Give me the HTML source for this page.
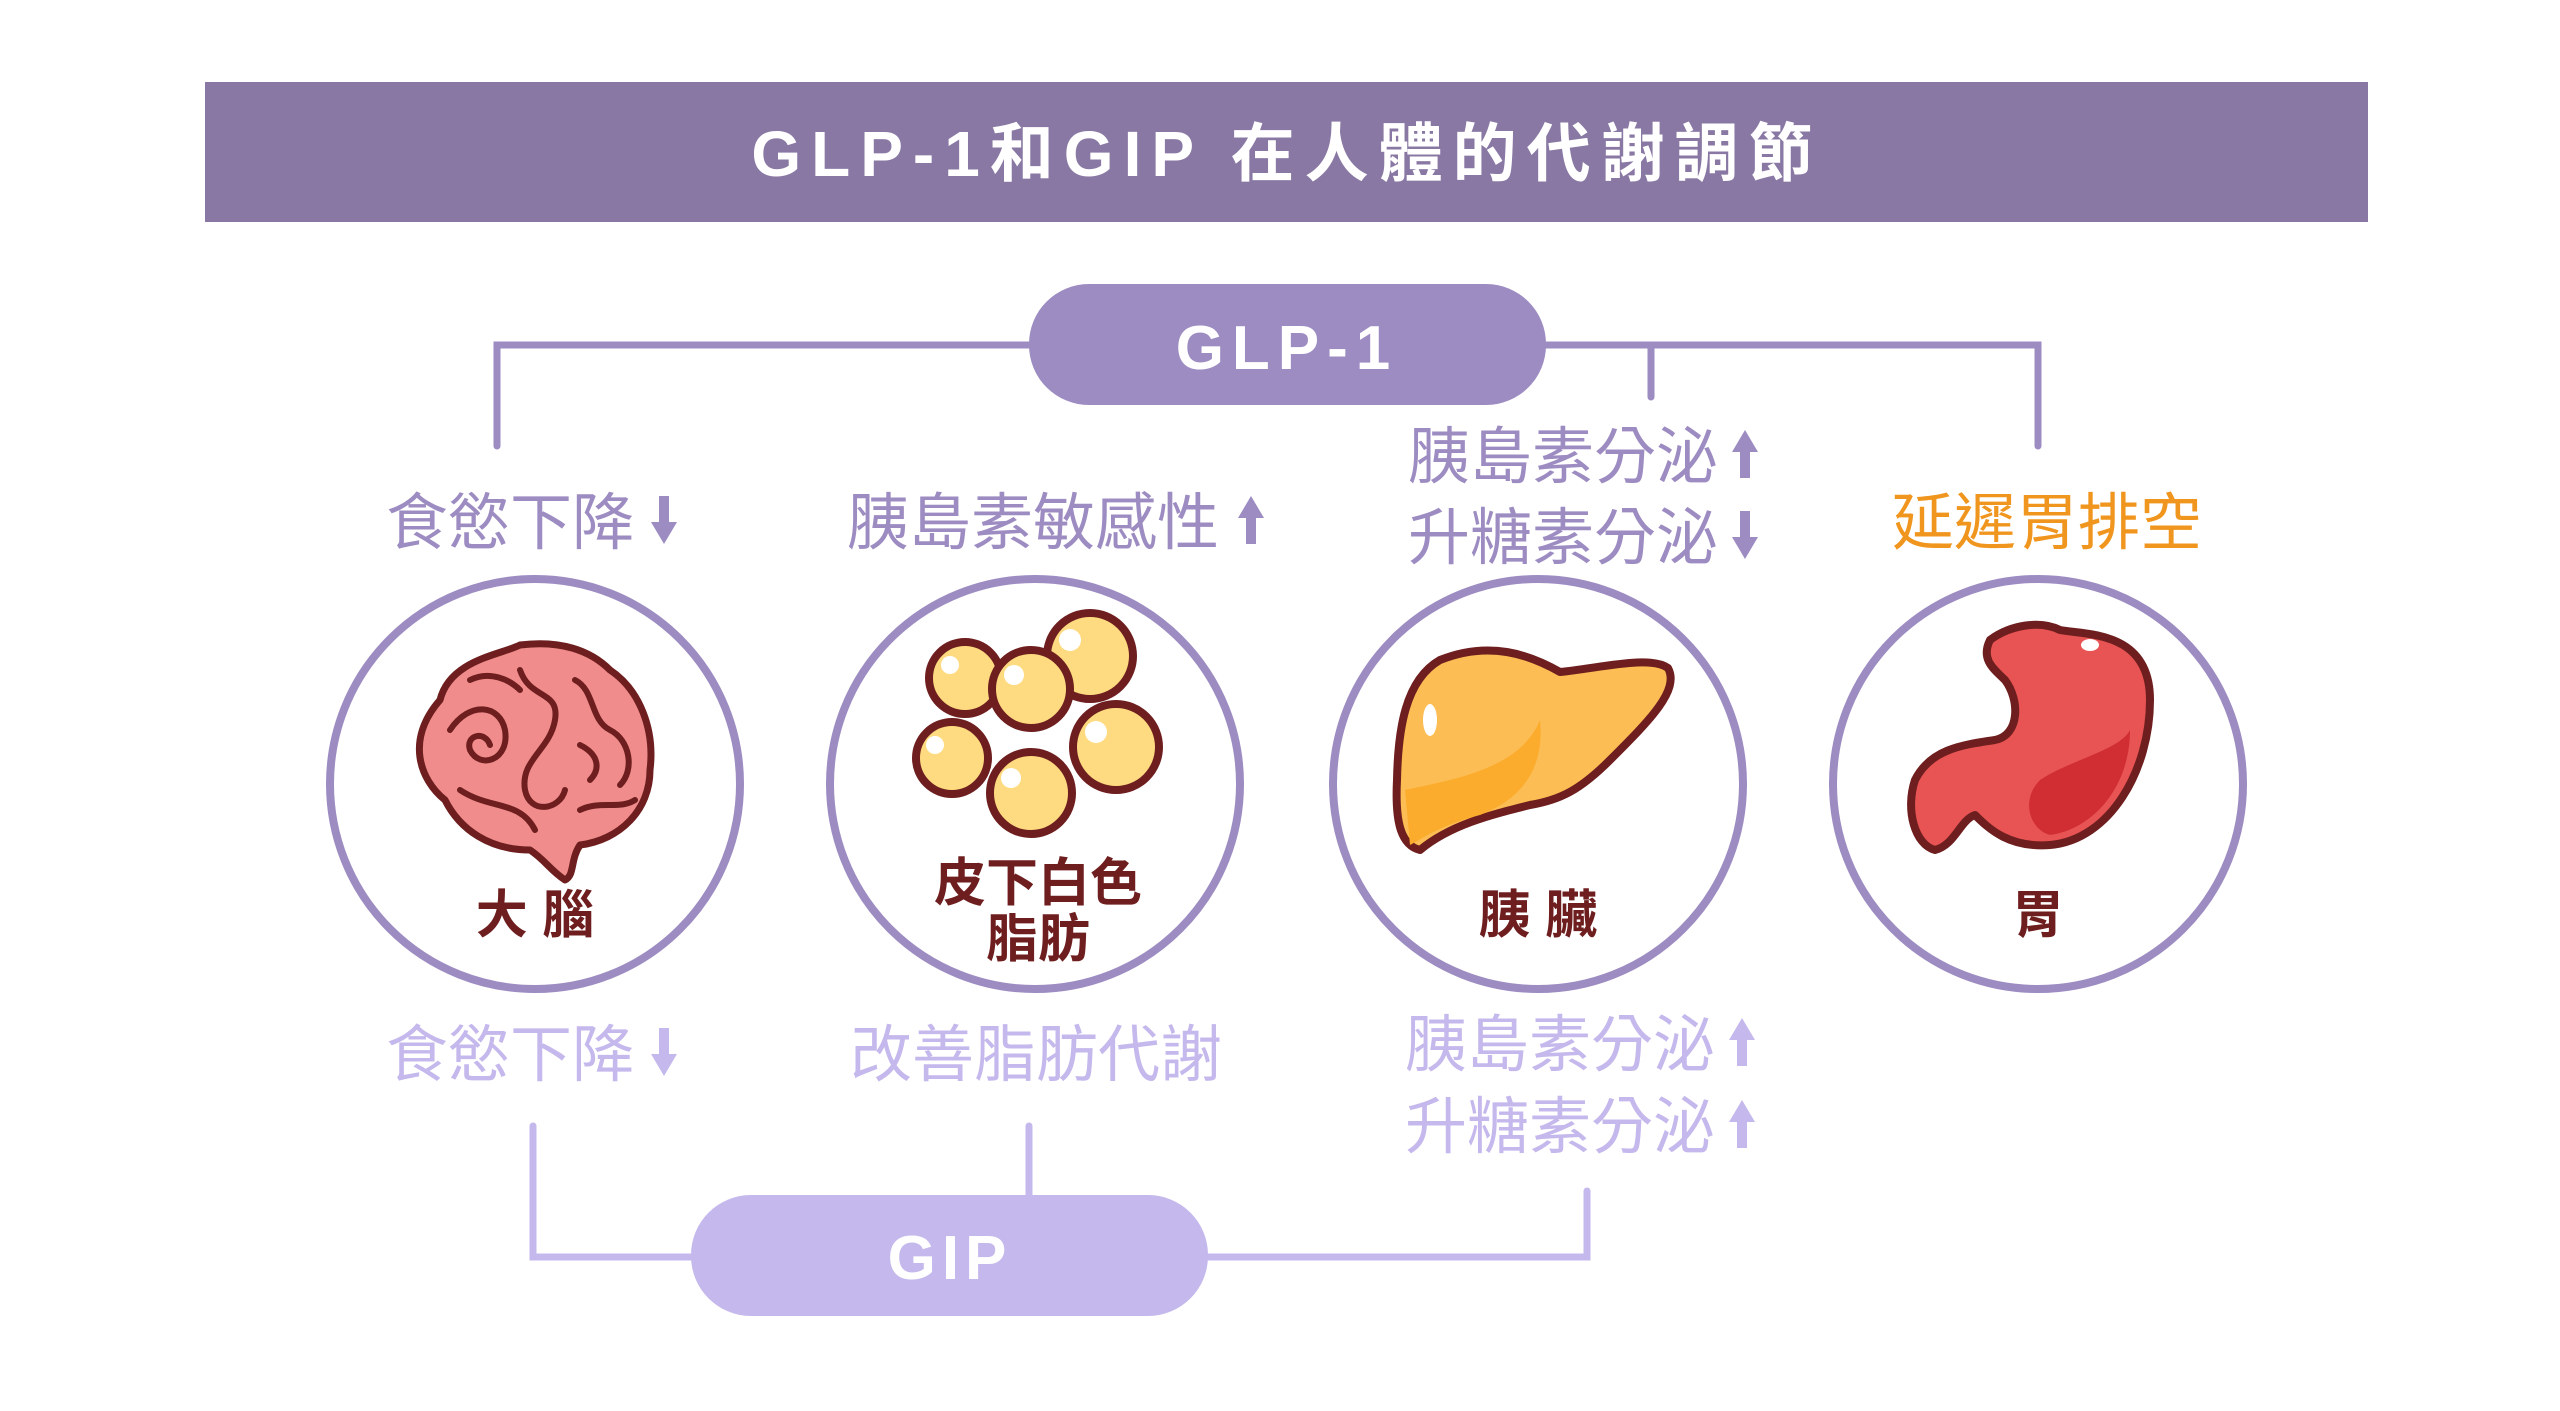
<!DOCTYPE html>
<html><head><meta charset="utf-8"><style>
html,body{margin:0;padding:0;background:#fff;}
svg{display:block;}
text{font-family:"Liberation Sans","Noto Sans CJK TC",sans-serif;}
</style></head><body>
<svg width="2560" height="1411" viewBox="0 0 2560 1411" xmlns="http://www.w3.org/2000/svg">
<rect x="205" y="82" width="2163" height="140" fill="#8878a3"/>
<text x="1287" y="176" font-size="64" font-weight="bold" fill="#fff" text-anchor="middle" letter-spacing="10">GLP-1和GIP 在人體的代謝調節</text>

<g stroke="#9d8cc2" stroke-width="7" fill="none" stroke-linecap="round">
<polyline points="497,446 497,345 2038,345 2038,446"/>
<line x1="1651" y1="345" x2="1651" y2="397"/>
</g>
<rect x="1029" y="284" width="517" height="121" rx="60" fill="#9d8cc2"/>
<text x="1287" y="369" font-size="62" font-weight="bold" fill="#fff" text-anchor="middle" letter-spacing="8">GLP-1</text>

<g stroke="#c5b8ec" stroke-width="7" fill="none" stroke-linecap="round">
<polyline points="533,1126 533,1257 1587,1257 1587,1191"/>
<line x1="1029" y1="1126" x2="1029" y2="1200"/>
</g>
<rect x="691" y="1195" width="517" height="121" rx="60" fill="#c5b8ec"/>
<text x="950" y="1279" font-size="62" font-weight="bold" fill="#fff" text-anchor="middle" letter-spacing="6">GIP</text>

<g font-size="62" fill="#9d8cc2">
<text x="386" y="544">食慾下降</text>
<text x="847" y="544">胰島素敏感性</text>
<text x="1408" y="478">胰島素分泌</text>
<text x="1408" y="559">升糖素分泌</text>
</g>
<text x="1892" y="544" font-size="62" fill="#f0961e">延遲胃排空</text>
<g font-size="62" fill="#c5b8ec">
<text x="386" y="1076">食慾下降</text>
<text x="850" y="1076">改善脂肪代謝</text>
<text x="1405" y="1066">胰島素分泌</text>
<text x="1405" y="1148">升糖素分泌</text>
</g>

<defs>
<path id="dn" d="M-5,-24 h10 v26 h8 l-13,22 l-13,-22 h8z"/>
<path id="up" d="M-5,24 h10 v-26 h8 l-13,-22 l-13,22 h8z"/>
</defs>
<g fill="#9d8cc2">
<use href="#dn" x="664" y="520"/>
<use href="#up" x="1251" y="520"/>
<use href="#up" x="1745" y="454"/>
<use href="#dn" x="1745" y="535"/>
</g>
<g fill="#c5b8ec">
<use href="#dn" x="664" y="1052"/>
<use href="#up" x="1742" y="1042"/>
<use href="#up" x="1742" y="1124"/>
</g>

<g stroke="#9d8cc2" stroke-width="8" fill="#fff">
<circle cx="535" cy="784" r="205"/>
<circle cx="1035" cy="784" r="205"/>
<circle cx="1538" cy="784" r="205"/>
<circle cx="2038" cy="784" r="205"/>
</g>

<g stroke="#6e1e1e" stroke-width="7" stroke-linejoin="round" stroke-linecap="round">
<path d="M440,700 C450,660 500,655 520,645 C560,640 590,650 610,670 C640,690 655,730 650,770 C650,810 620,840 580,845 C570,860 575,875 565,880 C550,870 545,860 530,850 C490,850 460,830 445,800 C420,780 405,740 440,700Z" fill="#f08c8c"/>
<g fill="none" stroke-width="6">
<path d="M450,730 C470,700 500,705 505,730 C510,760 480,770 470,750 C465,735 485,730 490,745"/>
<path d="M520,670 C530,700 560,690 555,720 C550,750 520,760 525,790 C530,815 560,810 565,790"/>
<path d="M575,680 C595,690 590,720 610,730 C630,740 635,770 620,785"/>
<path d="M460,790 C490,810 520,800 535,830"/>
<path d="M580,810 C600,800 620,810 635,800"/>
<path d="M470,680 C490,670 510,680 520,690"/>
<path d="M580,745 C600,755 600,770 590,780"/>
</g>
</g>

<g stroke="#6e1e1e" stroke-width="8" fill="#fedb80">
<circle cx="965" cy="678" r="36"/>
<circle cx="1090" cy="656" r="43"/>
<circle cx="1031" cy="689" r="39"/>
<circle cx="952" cy="758" r="36"/>
<circle cx="1116" cy="747" r="43"/>
<circle cx="1031" cy="793" r="41"/>
</g>
<g fill="#fff">
<circle cx="950" cy="665" r="9"/><circle cx="1070" cy="640" r="11"/><circle cx="1014" cy="675" r="10"/>
<circle cx="935" cy="745" r="9"/><circle cx="1096" cy="732" r="11"/><circle cx="1011" cy="778" r="10"/>
</g>

<path d="M1440,660 C1490,640 1530,655 1560,672 C1600,668 1650,655 1668,668 C1680,690 1650,720 1610,760 C1580,790 1560,800 1530,805 C1490,815 1450,825 1420,850 C1400,845 1395,820 1397,780 C1398,730 1405,680 1440,660Z" fill="#fcbd55" stroke="#6e1e1e" stroke-width="8" stroke-linejoin="round"/>
<path d="M1405,790 C1450,780 1520,770 1540,720 C1545,770 1520,800 1480,815 C1440,825 1420,840 1410,845Z" fill="#fbac2c"/>
<ellipse cx="1430" cy="720" rx="7" ry="16" fill="#fff"/>

<path d="M1990,640 C2010,625 2040,620 2060,630 C2085,635 2150,630 2150,700 C2150,770 2110,840 2050,845 C2010,848 1990,830 1975,815 C1960,820 1955,845 1935,850 C1915,845 1905,810 1915,780 C1930,750 1960,745 1995,740 C2020,735 2020,700 2005,680 C1995,670 1980,660 1990,640Z" fill="#e85454" stroke="#6e1e1e" stroke-width="8" stroke-linejoin="round"/>
<path d="M2040,780 C2070,760 2120,750 2130,730 C2130,790 2090,830 2050,835 C2030,830 2020,800 2040,780Z" fill="#d02e33"/>
<ellipse cx="2090" cy="645" rx="9" ry="6" fill="#fff"/>

<g font-size="52" font-weight="bold" fill="#6e1e1e" text-anchor="middle">
<text x="535" y="933">大 腦</text>
<text x="1038" y="901">皮下白色</text>
<text x="1038" y="957">脂肪</text>
<text x="1538" y="933">胰 臟</text>
<text x="2038" y="933">胃</text>
</g>
</svg>
</body></html>
